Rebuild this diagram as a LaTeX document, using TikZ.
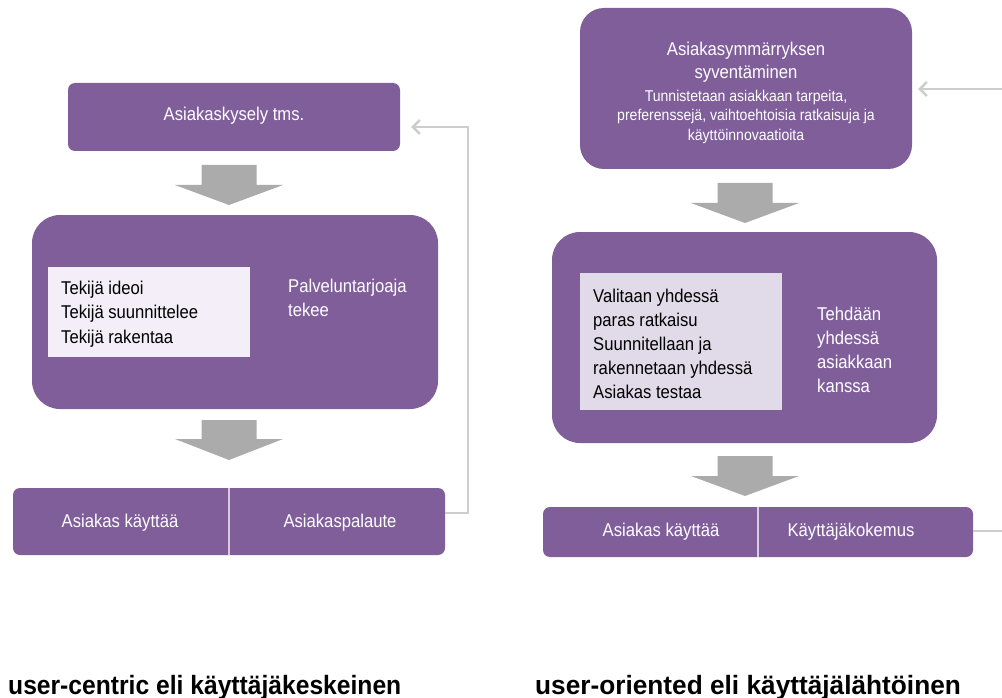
\documentclass[tikz,border=0pt]{standalone}
\usepackage{fontspec}
\setmainfont{Liberation Sans}[FakeStretch=0.9]
\newfontfamily\capfont{Liberation Sans}[FakeStretch=0.93]
\newfontfamily\capfontR{Liberation Sans}[FakeStretch=0.99]
\usetikzlibrary{arrows.meta,calc}
\definecolor{purp}{HTML}{7F5E9A}
\definecolor{lavA}{HTML}{F3EEF8}
\definecolor{lavB}{HTML}{E1DAE8}
\definecolor{garrow}{HTML}{ABABAB}
\definecolor{gline}{HTML}{CDCDCD}
\definecolor{divc}{HTML}{D8CCE3}
\newcommand\mainsz{\fontsize{18.5}{24.2}\selectfont}
\newcommand\smallsz{\fontsize{15.6}{19.8}\selectfont}
\newcommand\blockarrow[4]{%
  \fill[garrow] (#1-27.5,#2) -- (#1+27.5,#2) -- (#1+27.5,#3) -- (#1+54,#3)
    -- (#1,#4) -- (#1-54,#3) -- (#1-27.5,#3) -- cycle;}
\tikzset{
  pbox/.style={fill=purp, draw=none, inner sep=0pt},
  wtext/.style={text=white, inner sep=0pt, font=\mainsz},
  btext/.style={text=black, inner sep=0pt, font=\mainsz, align=left},
  inbox/.style={draw=none, inner sep=0pt},
  divline/.style={draw=divc, line width=1.3pt},
  fb/.style={draw=gline, line width=2.4pt, line join=miter},
  fbarrow/.style={fb, -{Straight Barb[length=7pt,width=14pt,line width=2.4pt]}},
  caption/.style={inner sep=0pt, font=\capfont\fontsize{26.5}{30}\selectfont\bfseries, anchor=base west}
}
\begin{document}
\begin{tikzpicture}[x=1pt, y=-1pt]
\useasboundingbox (0,0) rectangle (1002,698);

% ---------------- left column ----------------
\node[pbox, rounded corners=7pt, minimum width=332pt, minimum height=68pt] (ask) at (234,117) {};
\node[wtext] (askt) at (234,116) {Asiakaskysely tms.};

\node[pbox, rounded corners=28pt, minimum width=406pt, minimum height=194pt] (pl) at (235,312) {};
\node[inbox, fill=lavA, minimum width=202pt, minimum height=90pt] (pli) at (149,312) {};
\node[btext, anchor=north west] (plit) at (61,281) {Tekijä ideoi\\Tekijä suunnittelee\\Tekijä rakentaa};
\node[wtext, align=left, anchor=north west] (plt) at (288,278.5) {Palveluntarjoaja\\tekee};

\node[pbox, rounded corners=7pt, minimum width=432pt, minimum height=67pt] (bl) at (229,521.5) {};
\draw[divline] (bl.north) -- (bl.south);
\node[wtext] (blA) at (120,523) {Asiakas käyttää};
\node[wtext] (blB) at (340,523) {Asiakaspalaute};

\blockarrow{229}{165}{185}{205}
\blockarrow{229}{420}{439}{460}

\draw[fbarrow, shorten >=11pt] ([yshift=8.5pt]bl.east) -- ++(23,0) |- ([yshift=-10pt]ask.east);

% ---------------- right column ----------------
\node[pbox, rounded corners=24pt, minimum width=332pt, minimum height=161pt] (ru) at (746,88.5) {};
\node[wtext, align=center, anchor=north] (rut) at (746,42) {Asiakasymmärryksen\\[-1pt]syventäminen};
\node[wtext, align=center, anchor=north, font=\smallsz] (rus) at (746,89.5) {Tunnistetaan asiakkaan tarpeita,\\preferenssejä, vaihtoehtoisia ratkaisuja ja\\käyttöinnovaatioita};

\node[pbox, rounded corners=28pt, minimum width=385pt, minimum height=211pt] (rb) at (744.5,337.5) {};
\node[inbox, fill=lavB, minimum width=202pt, minimum height=137pt] (rbi) at (681,341.5) {};
\node[btext, anchor=north west] (rbit) at (593,288.5) {Valitaan yhdessä\\paras ratkaisu\\Suunnitellaan ja\\rakennetaan yhdessä\\Asiakas testaa};
\node[wtext, align=left, anchor=north west] (rbt) at (817,306.5) {Tehdään\\yhdessä\\asiakkaan\\kanssa};

\node[pbox, rounded corners=7pt, minimum width=430pt, minimum height=50pt] (br) at (758,532) {};
\draw[divline] (br.north) -- (br.south);
\node[wtext] (brA) at (661,532) {Asiakas käyttää};
\node[wtext] (brB) at (851,532) {Käyttäjäkokemus};

\blockarrow{745}{183}{203}{223}
\blockarrow{745}{456}{476}{496}

\coordinate (outR) at (1002,531);
\coordinate (inR) at (1002,89);
\draw[fb] ([yshift=1pt]br.east) -- ([yshift=1pt]br.east -| outR);
\draw[fbarrow, shorten >=6pt] (inR) -- (ru.east |- inR);

% ---------------- captions ----------------
\node[caption] (capL) at (8,694) {user-centric eli käyttäjäkeskeinen};
\node[caption, font=\capfontR\fontsize{26.5}{30}\selectfont\bfseries] (capR) at (535,694) {user-oriented eli käyttäjälähtöinen};
\end{tikzpicture}
\end{document}
